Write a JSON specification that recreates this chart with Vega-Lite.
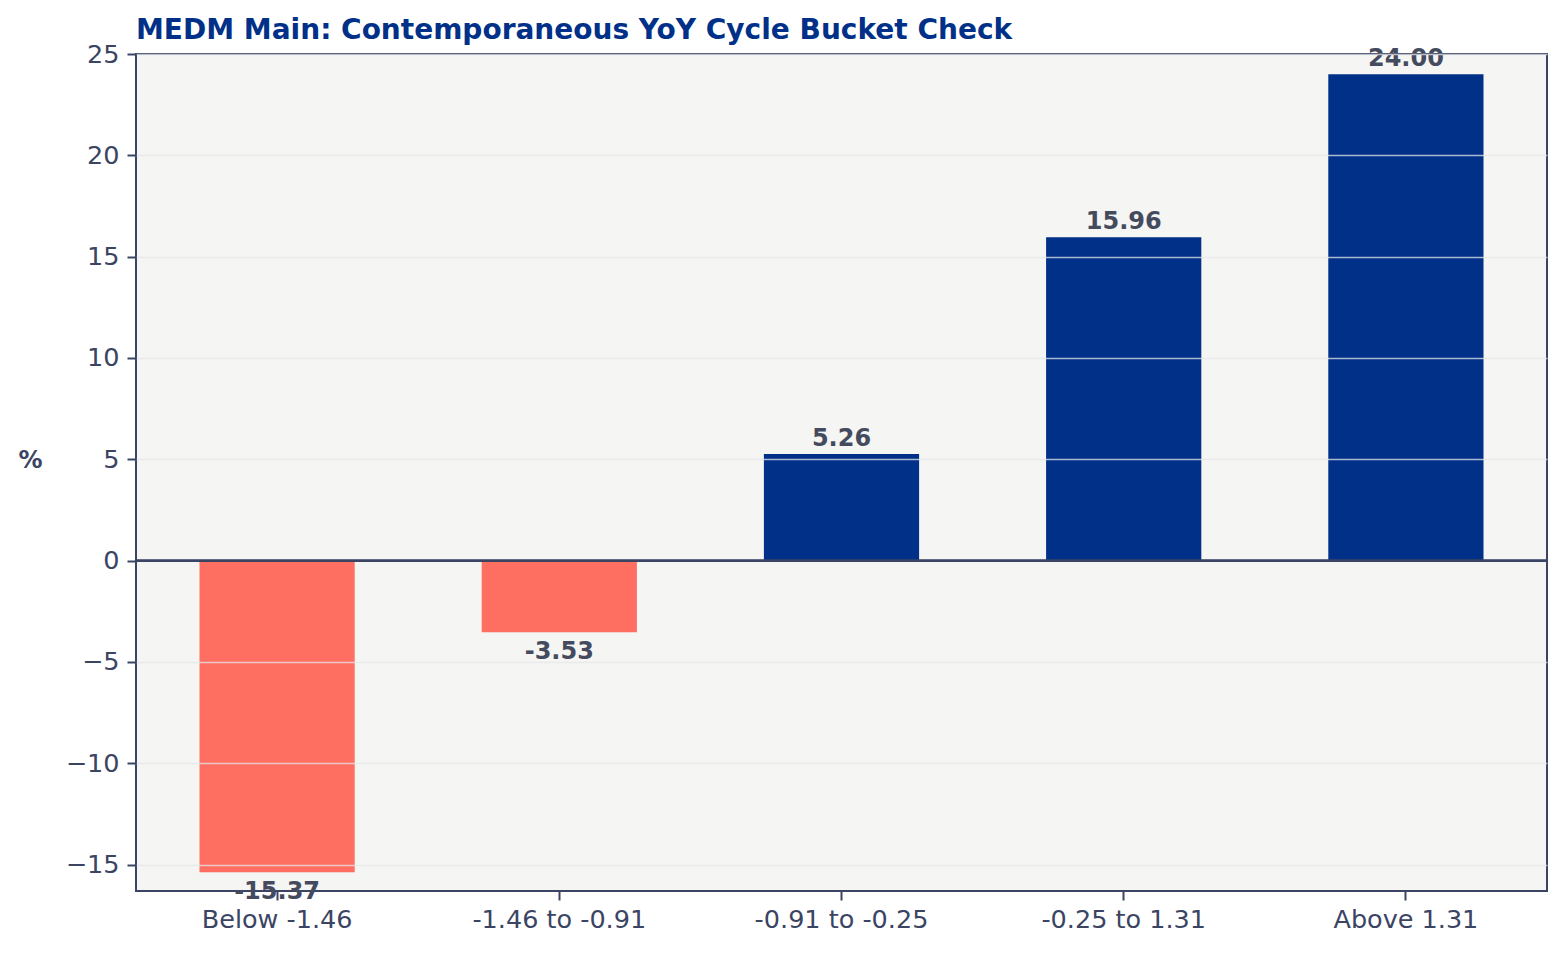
{
  "$schema": "https://vega.github.io/schema/vega-lite/v6.json",
  "width": 1411,
  "height": 837,
  "autosize": {"type": "none"},
  "padding": {"left": 136, "top": 54, "right": 17, "bottom": 62},
  "background": "white",
  "title": {
    "text": "MEDM Main: Contemporaneous YoY Cycle Bucket Check",
    "anchor": "start",
    "frame": "group",
    "font": "DejaVu Sans",
    "fontSize": 28,
    "fontWeight": "bold",
    "color": "#003087",
    "baseline": "bottom",
    "offset": 7,
    "dy": 38
  },
  "config": {
    "view": {"fill": "#f5f5f3", "stroke": "#3b4563", "strokeWidth": 2},
    "font": "DejaVu Sans",
    "axis": {
      "labelFont": "DejaVu Sans",
      "labelFontSize": 25.5,
      "labelColor": "#3b4563",
      "tickColor": "#3b4563",
      "tickWidth": 2,
      "tickSize": 9,
      "domain": false
    }
  },
  "data": {
    "values": [
      {"bucket": "Below -1.46", "value": -15.37, "label": "-15.37"},
      {"bucket": "-1.46 to -0.91", "value": -3.53, "label": "-3.53"},
      {"bucket": "-0.91 to -0.25", "value": 5.26, "label": "5.26"},
      {"bucket": "-0.25 to 1.31", "value": 15.96, "label": "15.96"},
      {"bucket": "Above 1.31", "value": 24.0, "label": "24.00"}
    ]
  },
  "encoding": {
    "x": {
      "field": "bucket",
      "type": "nominal",
      "sort": null,
      "scale": {"paddingInner": 0.45, "paddingOuter": 0.225},
      "axis": {"title": null, "labelAngle": 0, "grid": false, "labelPadding": 7}
    }
  },
  "layer": [
    {
      "mark": {"type": "bar"},
      "encoding": {
        "y": {
          "field": "value",
          "type": "quantitative",
          "scale": {"domain": [-16.3, 25], "nice": false, "zero": false},
          "axis": {
            "title": "%",
            "titleAngle": 0,
            "titleFont": "DejaVu Sans",
            "titleFontSize": 24,
            "titleFontWeight": "bold",
            "titleColor": "#3b4563",
            "titleX": -106,
            "titleY": 406,
            "titleAlign": "center",
            "titleBaseline": "middle",
            "values": [-15, -10, -5, 0, 5, 10, 15, 20, 25],
            "grid": true,
            "gridColor": {"condition": {"test": "datum.value === 0", "value": "transparent"}, "value": "#e3e7eb"},
            "gridOpacity": 0.75,
            "gridWidth": 1.5,
            "zindex": 1,
            "labelPadding": 8
          }
        },
        "color": {
          "condition": {"test": "datum.value < 0", "value": "#ff6f61"},
          "value": "#003087"
        }
      }
    },
    {
      "mark": {"type": "rule", "color": "#3b4563", "strokeWidth": 2},
      "encoding": {"y": {"datum": 0, "type": "quantitative"}, "x": null}
    },
    {
      "transform": [{"filter": "datum.value >= 0"}],
      "mark": {"type": "text", "font": "DejaVu Sans", "fontSize": 24, "fontWeight": "bold", "color": "#454b5e", "baseline": "alphabetic", "dy": -8},
      "encoding": {
        "y": {"field": "value", "type": "quantitative"},
        "text": {"field": "label"}
      }
    },
    {
      "transform": [{"filter": "datum.value < 0"}],
      "mark": {"type": "text", "font": "DejaVu Sans", "fontSize": 24, "fontWeight": "bold", "color": "#454b5e", "baseline": "alphabetic", "dy": 27},
      "encoding": {
        "y": {"field": "value", "type": "quantitative"},
        "text": {"field": "label"}
      }
    }
  ]
}
